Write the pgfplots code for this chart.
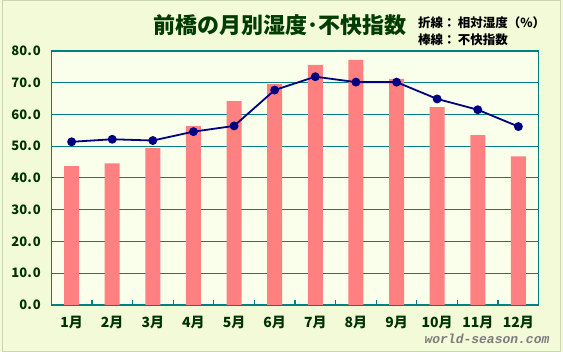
\documentclass[border=0pt]{standalone}
\usepackage{pgfplots}
\pgfplotsset{compat=1.18}
\usepackage{fontspec}
\setmainfont{Noto Sans CJK JP}
\newfontfamily\wm{Liberation Mono}
\definecolor{outerbg}{RGB}{242,250,216}
\definecolor{plotbg}{RGB}{250,255,236}
\definecolor{barc}{RGB}{255,128,128}
\definecolor{linec}{RGB}{0,0,128}
\definecolor{gridc}{RGB}{0,128,128}
\definecolor{txt}{RGB}{0,51,0}
\definecolor{brd}{RGB}{200,214,180}
\begin{document}
\begin{tikzpicture}[x=1pt,y=1pt]
\fill[outerbg] (0,0) rectangle (563,352);
\draw[brd, line width=1.2pt] (2.5,0.6) rectangle (560.5,351.4);
\begin{axis}[at={(51.3pt,47pt)}, anchor=south west, scale only axis,
  width=487.4pt, height=254pt,
  xmin=0.5, xmax=12.5, ymin=0, ymax=80,
  axis background/.style={fill=plotbg},
  axis line style={gridc, line width=1.2pt},
  ytick={0,10,20,30,40,50,60,70,80},
  yticklabels={0.\kern1pt0,10.\kern1pt0,20.\kern1pt0,30.\kern1pt0,40.\kern1pt0,50.\kern1pt0,60.\kern1pt0,70.\kern1pt0,80.\kern1pt0},
  ymajorgrids, xmajorgrids=false,
  grid style={gridc, line width=1pt},
  xtick={1,2,3,4,5,6,7,8,9,10,11,12},
  xticklabels={1月,2月,3月,4月,5月,6月,7月,8月,9月,10月,11月,12月},
  minor xtick={1.5,2.5,3.5,4.5,5.5,6.5,7.5,8.5,9.5,10.5,11.5},
  major tick length=0pt, minor tick length=5pt,
  tick align=inside, xtick pos=lower, ytick pos=left,
  minor tick style={gridc, line width=1.2pt},
  tick label style={font=\bfseries\fontsize{13}{13}\selectfont, text=txt},
  xticklabel style={font=\bfseries\fontsize{14}{14}\selectfont, yshift=-8pt},
  yticklabel style={xshift=-7pt},
  clip=false,
]
\addplot[ybar, bar width=15pt, fill=barc, draw=none] coordinates {
  (1,43.7) (2,44.6) (3,49.4) (4,56.3) (5,64.2) (6,69.6)
  (7,75.6) (8,77.2) (9,71.2) (10,62.3) (11,53.5) (12,46.8)};
\addplot[linec, line width=1.8pt, mark=*, mark size=3.5pt, mark options={fill=linec, draw=linec}] coordinates {
  (1,51.4) (2,52.2) (3,51.8) (4,54.6) (5,56.4) (6,67.7)
  (7,71.9) (8,70.2) (9,70.2) (10,64.9) (11,61.5) (12,56.2)};
\end{axis}
\node[text={rgb,255:red,0;green,60;blue,0}, font=\bfseries\fontsize{22}{22}\selectfont, anchor=center] at (280,327) {前橋の月別湿度･不快指数};
\node[anchor=west, font=\bfseries\fontsize{12.5}{12.5}\selectfont, inner sep=0pt] at (418,329) {折線：\,相対湿度（\%）};
\node[anchor=west, font=\bfseries\fontsize{12.5}{12.5}\selectfont, inner sep=0pt] at (418,312) {棒線：\,不快指数};
\node[text={rgb,255:red,125;green,125;blue,125}, font=\wm\bfseries\itshape\fontsize{13}{13}\selectfont] at (487,13) {world-season.com};
\end{tikzpicture}
\end{document}
